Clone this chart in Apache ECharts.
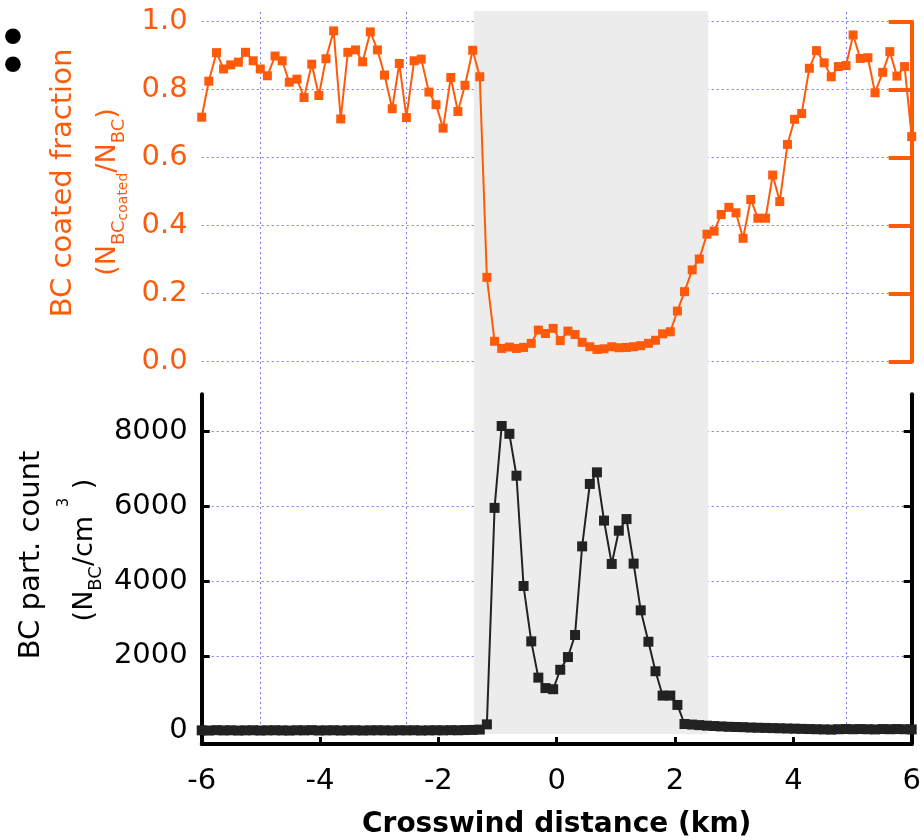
<!DOCTYPE html>
<html>
<head>
<meta charset="utf-8">
<script src="https://cdn.jsdelivr.net/npm/echarts@6/dist/echarts.min.js"></script>
<style>html,body{margin:0;padding:0;background:#fff;}#c{width:924px;height:840px;}</style>
</head>
<body>
<div id="c"></div>
<script>
// Crosswind distance (km) of each sample
const xKm = [
-6.00,-5.88,-5.75,-5.63,-5.51,-5.38,-5.26,-5.13,-5.01,-4.89,
-4.76,-4.64,-4.52,-4.39,-4.27,-4.14,-4.02,-3.90,-3.77,-3.65,
-3.53,-3.40,-3.28,-3.15,-3.03,-2.91,-2.78,-2.66,-2.54,-2.41,
-2.29,-2.16,-2.04,-1.92,-1.79,-1.67,-1.55,-1.42,-1.30,-1.18,
-1.05,-0.93,-0.80,-0.68,-0.56,-0.43,-0.31,-0.19,-0.06,0.06,
0.19,0.31,0.43,0.56,0.68,0.80,0.93,1.05,1.18,1.30,
1.42,1.55,1.67,1.79,1.92,2.04,2.16,2.29,2.41,2.54,
2.66,2.78,2.91,3.03,3.15,3.28,3.40,3.53,3.65,3.77,
3.90,4.02,4.14,4.27,4.39,4.52,4.64,4.76,4.89,5.01,
5.13,5.26,5.38,5.51,5.63,5.75,5.88,6.00];

// BC coated fraction (N_BCcoated / N_BC)
const coatedFraction = [
0.719,0.825,0.909,0.861,0.873,0.881,0.910,0.885,0.861,0.841,
0.899,0.885,0.822,0.831,0.777,0.875,0.783,0.891,0.973,0.714,
0.910,0.917,0.882,0.970,0.917,0.843,0.744,0.877,0.718,0.885,
0.890,0.793,0.756,0.687,0.836,0.736,0.813,0.916,0.838,0.248,
0.060,0.039,0.043,0.039,0.042,0.054,0.093,0.083,0.098,0.062,
0.090,0.080,0.057,0.044,0.036,0.038,0.044,0.041,0.042,0.044,
0.047,0.054,0.063,0.082,0.088,0.149,0.206,0.270,0.302,0.375,
0.384,0.433,0.454,0.438,0.363,0.477,0.422,0.422,0.549,0.471,
0.639,0.713,0.730,0.863,0.915,0.879,0.838,0.868,0.871,0.961,
0.892,0.894,0.791,0.851,0.912,0.840,0.868,0.662];

// BC particle count (N_BC / cm^3)
const bcCount = [
10,5,15,8,12,5,10,12,6,10,
12,8,5,12,10,15,6,10,12,6,
10,12,6,10,12,10,6,12,10,12,
6,10,12,10,15,12,18,22,30,170,
5960,8150,7940,6820,3870,2390,1420,1140,1110,1630,
1970,2560,4930,6600,6910,5620,4460,5350,5660,4470,
3220,2380,1590,940,940,690,180,165,150,135,
125,115,105,100,95,85,80,75,70,65,
60,55,50,45,40,35,30,40,45,40,
45,40,35,45,40,45,40,35];

const xTicks = [-6, -4, -2, 0, 2, 4, 6];
const fractionTicks = [0, 0.2, 0.4, 0.6, 0.8, 1.0];
const countTicks = [0, 2000, 4000, 6000, 8000];
const gridLinesKm = [-5.01, -2.54, -0.06, 2.41, 4.89];
const plumeRangeKm = [-1.4, 2.56];

const ORANGE = '#ff5a0a';
const BLUE = '#7a7af2';
const FONT = 'DejaVu Sans';

const chart = echarts.init(document.getElementById('c'), null, {renderer: 'canvas'});

const gridDash = {color: BLUE, width: 1, type: [2, 3]};

const option = {
  animation: false,
  backgroundColor: '#fff',
  grid: [
    {left: 201.7, right: 12.3, top: 21.7, height: 340},
    {left: 201.7, right: 12.3, top: 394.2, height: 350.8},
    {left: 201.7, right: 12.3, top: 11, height: 723}
  ],
  xAxis: [
    {gridIndex: 0, type: 'value', min: -6, max: 6, show: false},
    {gridIndex: 1, type: 'value', min: -6, max: 6, interval: 2,
     axisLine: {show: true, onZero: false, lineStyle: {color: '#000', width: 4}},
     axisTick: {show: true, inside: true, length: 7, lineStyle: {color: '#000', width: 3}},
     axisLabel: {show: true, color: '#000', fontSize: 29, fontFamily: FONT, margin: 23,
                 customValues: xTicks},
     splitLine: {show: false},
     name: 'Crosswind distance (km)', nameLocation: 'middle', nameGap: 67,
     nameTextStyle: {color: '#000', fontSize: 28, fontWeight: 'bold', fontFamily: FONT}},
    {gridIndex: 2, type: 'value', min: -6, max: 6, show: false}
  ],
  yAxis: [
    {gridIndex: 0, type: 'value', min: 0, max: 1, interval: 0.2, position: 'left',
     axisLine: {show: true, lineStyle: {color: ORANGE, width: 4}},
     axisTick: {show: true, inside: true, length: 22, lineStyle: {color: ORANGE, width: 4}},
     axisLabel: {color: ORANGE, fontSize: 29, fontFamily: FONT, margin: 14,
                 formatter: v => v.toFixed(1)},
     splitLine: {show: true, lineStyle: gridDash}},
    {gridIndex: 0, type: 'value', min: 0, max: 1, interval: 0.2, position: 'right',
     axisLine: {show: true, lineStyle: {color: ORANGE, width: 4}},
     axisTick: {show: true, inside: true, length: 23, lineStyle: {color: ORANGE, width: 4}},
     axisLabel: {show: false}, splitLine: {show: false}},
    {gridIndex: 1, type: 'value', min: -355, max: 9000, position: 'left',
     axisLine: {show: true, onZero: false, lineStyle: {color: '#000', width: 4}},
     axisTick: {show: true, inside: true, length: 8, lineStyle: {color: '#000', width: 3},
                customValues: countTicks},
     axisLabel: {color: '#000', fontSize: 29, fontFamily: FONT, margin: 14,
                 customValues: countTicks, formatter: v => String(v)},
     splitLine: {show: true, lineStyle: gridDash}},
    {gridIndex: 1, type: 'value', min: -355, max: 9000, position: 'right',
     axisLine: {show: true, onZero: false, lineStyle: {color: '#000', width: 4}},
     axisTick: {show: true, inside: true, length: 8, lineStyle: {color: '#000', width: 3},
                customValues: countTicks},
     axisLabel: {show: false}, splitLine: {show: false}},
    {gridIndex: 2, type: 'value', min: 0, max: 1, show: false}
  ],
  series: [
    {type: 'line', xAxisIndex: 2, yAxisIndex: 4, data: [], z: 0, silent: true,
     markLine: {silent: true, z: 0, symbol: 'none', label: {show: false},
                lineStyle: gridDash, emphasis: {disabled: true},
                data: gridLinesKm.map(v => ({xAxis: v}))}},
    {type: 'line', xAxisIndex: 2, yAxisIndex: 4, data: [], z: 1, silent: true,
     markArea: {silent: true, z: 1, itemStyle: {color: '#ececec'},
                data: [[{xAxis: plumeRangeKm[0]}, {xAxis: plumeRangeKm[1]}]]}},
    {type: 'line', name: 'coated', xAxisIndex: 0, yAxisIndex: 0, z: 3,
     data: xKm.map((x, i) => [x, coatedFraction[i]]),
     symbol: 'rect', symbolSize: 9, showAllSymbol: true,
     itemStyle: {color: ORANGE}, lineStyle: {color: ORANGE, width: 2}},
    {type: 'line', name: 'count', xAxisIndex: 1, yAxisIndex: 2, z: 3,
     data: xKm.map((x, i) => [x, bcCount[i]]),
     symbol: 'rect', symbolSize: 10, showAllSymbol: true,
     itemStyle: {color: '#222'}, lineStyle: {color: '#222', width: 2}}
  ],
  graphic: [
    {type: 'text', x: 13, y: 56,
     style: {text: '•\n•', font: '54px "DejaVu Sans"', lineHeight: 28, fill: '#000', align: 'center', verticalAlign: 'middle'}},
    {type: 'text', x: 63, y: 183, rotation: Math.PI / 2,
     style: {text: 'BC coated fraction', font: '29px "DejaVu Sans"', fill: ORANGE,
             align: 'center', verticalAlign: 'middle'}},
    {type: 'text', x: 95, y: 192, rotation: Math.PI / 2,
     style: {text: '{m|(N}{s|BC}{ss|coated}{m|/N}{s|BC}{m|)}', fill: ORANGE,
             align: 'center', verticalAlign: 'middle',
             rich: {
               m: {fontSize: 27, fontFamily: FONT, color: ORANGE, lineHeight: 30, padding: [14, 0, 0, 0], verticalAlign: 'top'},
               s: {fontSize: 18, fontFamily: FONT, color: ORANGE, lineHeight: 20, padding: [30, 0, 0, 0], verticalAlign: 'top'},
               ss: {fontSize: 14, fontFamily: FONT, color: ORANGE, lineHeight: 16, padding: [36, 0, 0, 0], verticalAlign: 'top'}
             }}},
    {type: 'text', x: 31, y: 555, rotation: Math.PI / 2,
     style: {text: 'BC part. count', font: '29px "DejaVu Sans"', fill: '#000',
             align: 'center', verticalAlign: 'middle'}},
    {type: 'text', x: 72, y: 550, rotation: Math.PI / 2,
     style: {text: '{m|(N}{s|BC}{m|/cm }{sup|3}{m| )}', fill: '#000',
             align: 'center', verticalAlign: 'middle',
             rich: {
               m: {fontSize: 27, fontFamily: FONT, color: '#000', lineHeight: 30, padding: [14, 0, 0, 0], verticalAlign: 'top'},
               s: {fontSize: 18, fontFamily: FONT, color: '#000', lineHeight: 20, padding: [30, 0, 0, 0], verticalAlign: 'top'},
               sup: {fontSize: 15, fontFamily: FONT, color: '#000', lineHeight: 16, padding: [0, 0, 0, 0], verticalAlign: 'top'}
             }}}
  ]
};
chart.setOption(option);
</script>
</body>
</html>
